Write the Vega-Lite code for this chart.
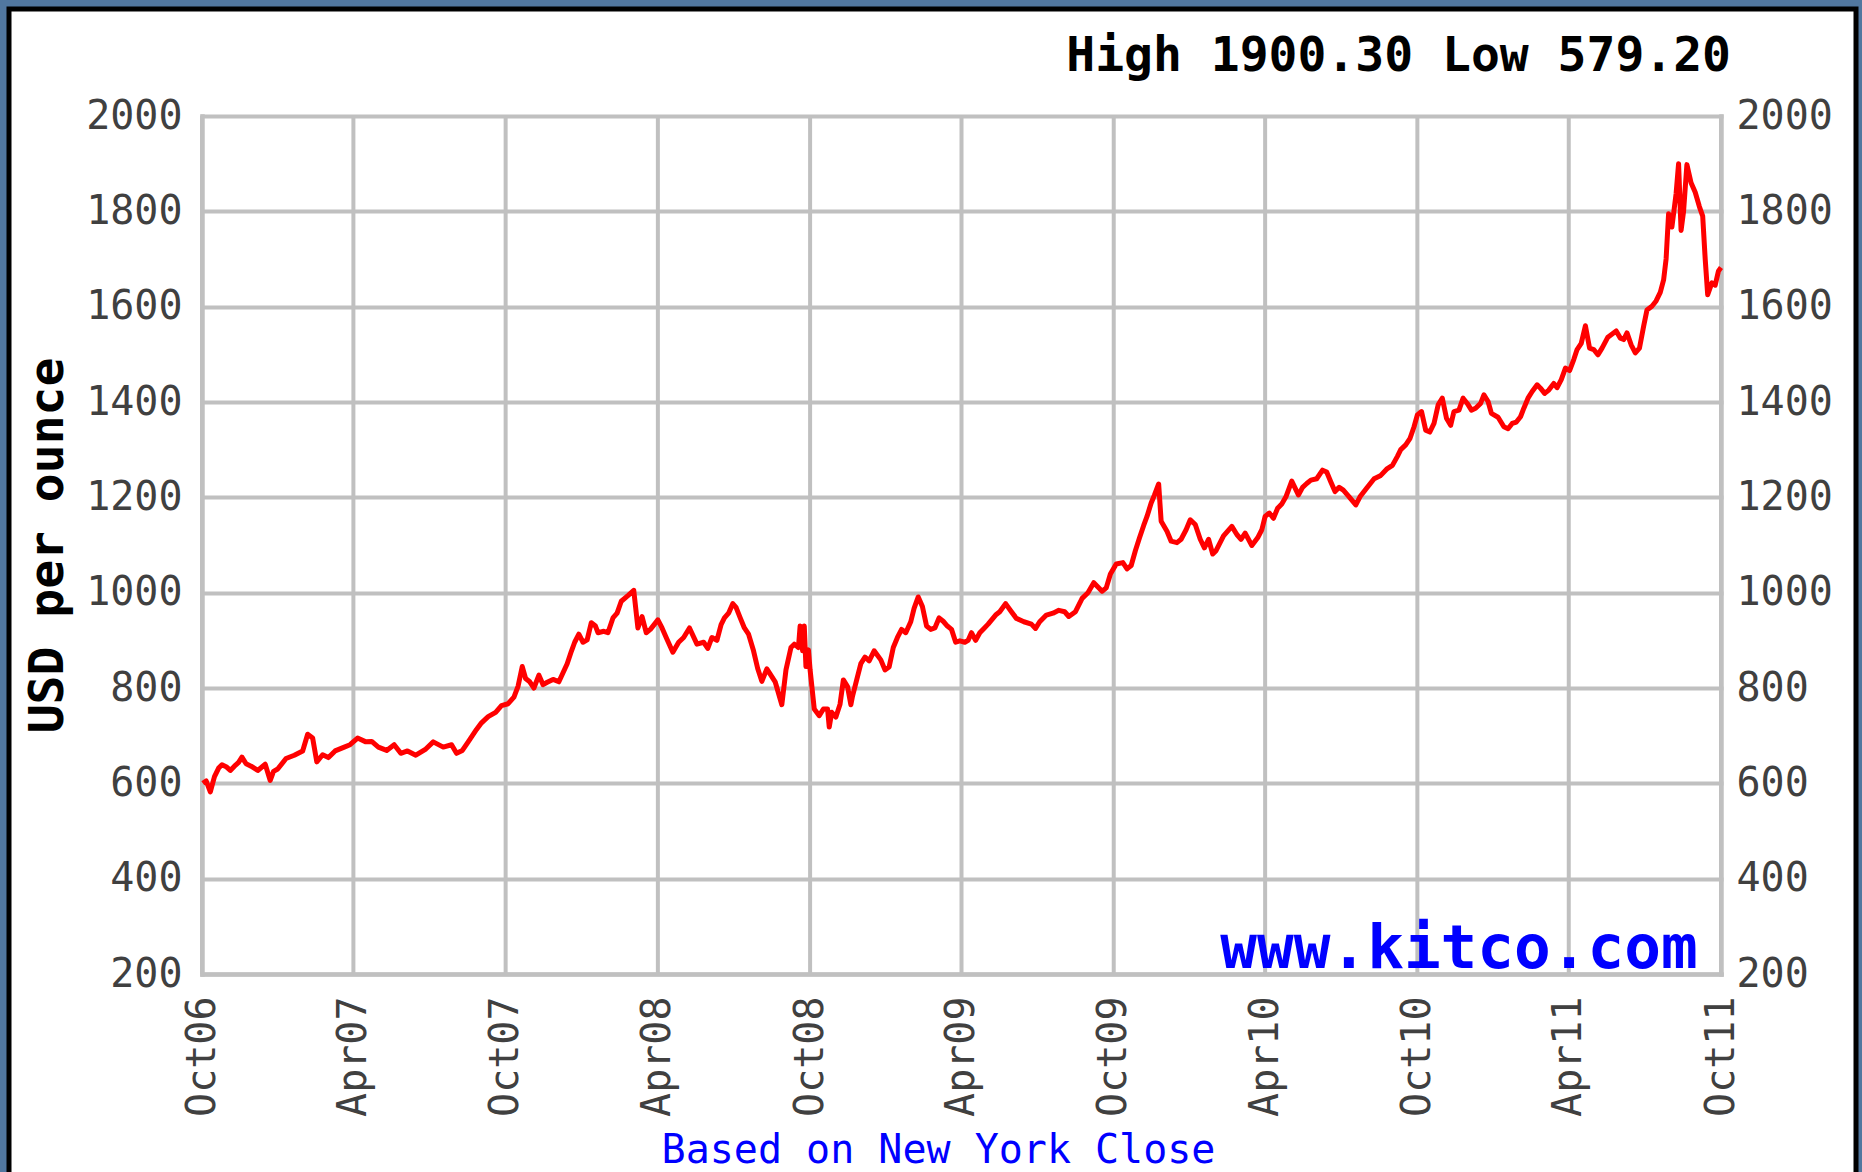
{
  "$schema": "https://vega.github.io/schema/vega-lite/v6.json",
  "autosize": "none",
  "width": 1847,
  "height": 1168,
  "padding": {"left": 9, "top": 9, "right": 6, "bottom": -5},
  "background": "#51779f",
  "config": {
    "view": {"fill": "#ffffff", "stroke": "#000000", "strokeWidth": 5},
    "axis": {
      "domainColor": "#c0c0c0", "domainWidth": 4.5, "domainCap": "square",
      "gridColor": "#c0c0c0", "gridWidth": 4, "gridCap": "square",
      "ticks": false, "tickSize": 0,
      "labelFont": "DejaVu Sans Mono", "labelFontSize": 40, "labelColor": "#404040",
      "titleFont": "DejaVu Sans Mono"
    }
  },
  "data": {"values": [
    {"date": "2006-10-02", "price": 600}, {"date": "2006-10-06", "price": 605}, {"date": "2006-10-11", "price": 582},
    {"date": "2006-10-16", "price": 614}, {"date": "2006-10-21", "price": 632}, {"date": "2006-10-25", "price": 639},
    {"date": "2006-10-30", "price": 635}, {"date": "2006-11-04", "price": 627}, {"date": "2006-11-09", "price": 636},
    {"date": "2006-11-14", "price": 644}, {"date": "2006-11-18", "price": 655}, {"date": "2006-11-23", "price": 641},
    {"date": "2006-11-29", "price": 636}, {"date": "2006-12-07", "price": 627}, {"date": "2006-12-16", "price": 640},
    {"date": "2006-12-22", "price": 606}, {"date": "2006-12-26", "price": 625}, {"date": "2006-12-31", "price": 630},
    {"date": "2007-01-10", "price": 652}, {"date": "2007-01-20", "price": 659}, {"date": "2007-01-30", "price": 668},
    {"date": "2007-02-05", "price": 703}, {"date": "2007-02-11", "price": 695}, {"date": "2007-02-16", "price": 645},
    {"date": "2007-02-23", "price": 660}, {"date": "2007-03-02", "price": 654}, {"date": "2007-03-10", "price": 668},
    {"date": "2007-03-21", "price": 676}, {"date": "2007-03-28", "price": 681}, {"date": "2007-04-06", "price": 695},
    {"date": "2007-04-16", "price": 687}, {"date": "2007-04-23", "price": 688}, {"date": "2007-05-01", "price": 676},
    {"date": "2007-05-11", "price": 669}, {"date": "2007-05-20", "price": 681}, {"date": "2007-05-28", "price": 663},
    {"date": "2007-06-05", "price": 668}, {"date": "2007-06-15", "price": 659}, {"date": "2007-06-27", "price": 672},
    {"date": "2007-07-06", "price": 687}, {"date": "2007-07-18", "price": 676}, {"date": "2007-07-28", "price": 681},
    {"date": "2007-08-03", "price": 663}, {"date": "2007-08-10", "price": 669}, {"date": "2007-08-17", "price": 687},
    {"date": "2007-08-22", "price": 700}, {"date": "2007-08-27", "price": 713}, {"date": "2007-09-02", "price": 727},
    {"date": "2007-09-10", "price": 740}, {"date": "2007-09-19", "price": 749}, {"date": "2007-09-26", "price": 763},
    {"date": "2007-10-04", "price": 767}, {"date": "2007-10-11", "price": 781}, {"date": "2007-10-16", "price": 804},
    {"date": "2007-10-21", "price": 845}, {"date": "2007-10-25", "price": 820}, {"date": "2007-10-30", "price": 813},
    {"date": "2007-11-04", "price": 800}, {"date": "2007-11-10", "price": 827}, {"date": "2007-11-15", "price": 807},
    {"date": "2007-11-20", "price": 812}, {"date": "2007-11-27", "price": 818}, {"date": "2007-12-04", "price": 813},
    {"date": "2007-12-09", "price": 832}, {"date": "2007-12-14", "price": 851}, {"date": "2007-12-19", "price": 877},
    {"date": "2007-12-23", "price": 896}, {"date": "2007-12-28", "price": 913}, {"date": "2008-01-02", "price": 896},
    {"date": "2008-01-07", "price": 901}, {"date": "2008-01-12", "price": 937}, {"date": "2008-01-17", "price": 930},
    {"date": "2008-01-20", "price": 916}, {"date": "2008-01-27", "price": 919}, {"date": "2008-02-01", "price": 916},
    {"date": "2008-02-07", "price": 947}, {"date": "2008-02-12", "price": 957}, {"date": "2008-02-17", "price": 982},
    {"date": "2008-02-25", "price": 994}, {"date": "2008-03-03", "price": 1005}, {"date": "2008-03-08", "price": 926},
    {"date": "2008-03-13", "price": 950}, {"date": "2008-03-18", "price": 916}, {"date": "2008-03-23", "price": 923},
    {"date": "2008-03-28", "price": 934}, {"date": "2008-04-01", "price": 943}, {"date": "2008-04-06", "price": 926},
    {"date": "2008-04-11", "price": 906}, {"date": "2008-04-19", "price": 875}, {"date": "2008-04-26", "price": 896},
    {"date": "2008-05-02", "price": 906}, {"date": "2008-05-09", "price": 926}, {"date": "2008-05-18", "price": 892},
    {"date": "2008-05-26", "price": 896}, {"date": "2008-05-31", "price": 883}, {"date": "2008-06-05", "price": 906},
    {"date": "2008-06-11", "price": 900}, {"date": "2008-06-16", "price": 933}, {"date": "2008-06-20", "price": 947},
    {"date": "2008-06-25", "price": 957}, {"date": "2008-06-30", "price": 977}, {"date": "2008-07-04", "price": 969},
    {"date": "2008-07-09", "price": 947}, {"date": "2008-07-14", "price": 926}, {"date": "2008-07-19", "price": 913},
    {"date": "2008-07-25", "price": 878}, {"date": "2008-07-30", "price": 841}, {"date": "2008-08-04", "price": 814},
    {"date": "2008-08-10", "price": 840}, {"date": "2008-08-20", "price": 813}, {"date": "2008-08-28", "price": 765},
    {"date": "2008-09-02", "price": 838}, {"date": "2008-09-08", "price": 885}, {"date": "2008-09-12", "price": 892},
    {"date": "2008-09-17", "price": 885}, {"date": "2008-09-19", "price": 930}, {"date": "2008-09-22", "price": 878},
    {"date": "2008-09-24", "price": 930}, {"date": "2008-09-26", "price": 845},
    {"date": "2008-09-29", "price": 880}, {"date": "2008-10-01", "price": 838},
    {"date": "2008-10-06", "price": 756}, {"date": "2008-10-12", "price": 742}, {"date": "2008-10-17", "price": 756},
    {"date": "2008-10-22", "price": 756}, {"date": "2008-10-24", "price": 718}, {"date": "2008-10-27", "price": 749},
    {"date": "2008-11-01", "price": 739},
    {"date": "2008-11-06", "price": 766}, {"date": "2008-11-10", "price": 817}, {"date": "2008-11-15", "price": 803},
    {"date": "2008-11-19", "price": 765}, {"date": "2008-11-21", "price": 783}, {"date": "2008-11-25", "price": 810},
    {"date": "2008-12-01", "price": 851},
    {"date": "2008-12-06", "price": 865}, {"date": "2008-12-11", "price": 857}, {"date": "2008-12-17", "price": 878},
    {"date": "2008-12-25", "price": 859}, {"date": "2008-12-30", "price": 838}, {"date": "2009-01-04", "price": 844},
    {"date": "2009-01-09", "price": 885}, {"date": "2009-01-14", "price": 906}, {"date": "2009-01-19", "price": 923},
    {"date": "2009-01-24", "price": 916}, {"date": "2009-01-30", "price": 939}, {"date": "2009-02-03", "price": 967},
    {"date": "2009-02-08", "price": 991}, {"date": "2009-02-13", "price": 971}, {"date": "2009-02-18", "price": 930},
    {"date": "2009-02-23", "price": 923}, {"date": "2009-02-28", "price": 926}, {"date": "2009-03-05", "price": 947},
    {"date": "2009-03-10", "price": 940}, {"date": "2009-03-15", "price": 930}, {"date": "2009-03-20", "price": 923},
    {"date": "2009-03-25", "price": 896}, {"date": "2009-03-30", "price": 899}, {"date": "2009-04-05", "price": 896},
    {"date": "2009-04-09", "price": 900}, {"date": "2009-04-13", "price": 916}, {"date": "2009-04-18", "price": 900},
    {"date": "2009-04-23", "price": 916}, {"date": "2009-04-28", "price": 925}, {"date": "2009-05-03", "price": 934},
    {"date": "2009-05-12", "price": 953}, {"date": "2009-05-17", "price": 960}, {"date": "2009-05-24", "price": 977},
    {"date": "2009-05-31", "price": 960}, {"date": "2009-06-06", "price": 946}, {"date": "2009-06-15", "price": 939},
    {"date": "2009-06-24", "price": 934}, {"date": "2009-06-29", "price": 925}, {"date": "2009-07-04", "price": 939},
    {"date": "2009-07-12", "price": 953}, {"date": "2009-07-20", "price": 957}, {"date": "2009-07-27", "price": 963},
    {"date": "2009-08-03", "price": 960}, {"date": "2009-08-08", "price": 950}, {"date": "2009-08-16", "price": 960},
    {"date": "2009-08-24", "price": 988}, {"date": "2009-08-31", "price": 1000}, {"date": "2009-09-07", "price": 1021},
    {"date": "2009-09-12", "price": 1012}, {"date": "2009-09-17", "price": 1003}, {"date": "2009-09-22", "price": 1010},
    {"date": "2009-09-27", "price": 1039}, {"date": "2009-10-04", "price": 1060}, {"date": "2009-10-12", "price": 1063},
    {"date": "2009-10-17", "price": 1050}, {"date": "2009-10-22", "price": 1057}, {"date": "2009-10-27", "price": 1088},
    {"date": "2009-11-01", "price": 1115}, {"date": "2009-11-06", "price": 1141}, {"date": "2009-11-10", "price": 1160},
    {"date": "2009-11-15", "price": 1188}, {"date": "2009-11-19", "price": 1205}, {"date": "2009-11-24", "price": 1228},
    {"date": "2009-11-27", "price": 1150}, {"date": "2009-12-04", "price": 1129}, {"date": "2009-12-09", "price": 1108},
    {"date": "2009-12-16", "price": 1105}, {"date": "2009-12-21", "price": 1112}, {"date": "2009-12-27", "price": 1132},
    {"date": "2010-01-01", "price": 1153}, {"date": "2010-01-07", "price": 1143}, {"date": "2010-01-13", "price": 1112},
    {"date": "2010-01-18", "price": 1094}, {"date": "2010-01-23", "price": 1112}, {"date": "2010-01-28", "price": 1081},
    {"date": "2010-02-01", "price": 1088}, {"date": "2010-02-10", "price": 1119}, {"date": "2010-02-20", "price": 1139},
    {"date": "2010-02-26", "price": 1122}, {"date": "2010-03-03", "price": 1112}, {"date": "2010-03-08", "price": 1125},
    {"date": "2010-03-16", "price": 1099}, {"date": "2010-03-23", "price": 1115}, {"date": "2010-03-28", "price": 1132},
    {"date": "2010-04-01", "price": 1160}, {"date": "2010-04-06", "price": 1167}, {"date": "2010-04-11", "price": 1156},
    {"date": "2010-04-16", "price": 1177}, {"date": "2010-04-21", "price": 1186}, {"date": "2010-04-26", "price": 1201},
    {"date": "2010-05-03", "price": 1234}, {"date": "2010-05-11", "price": 1205}, {"date": "2010-05-16", "price": 1221},
    {"date": "2010-05-21", "price": 1229}, {"date": "2010-05-26", "price": 1236}, {"date": "2010-06-02", "price": 1239},
    {"date": "2010-06-09", "price": 1257}, {"date": "2010-06-14", "price": 1253}, {"date": "2010-06-19", "price": 1232},
    {"date": "2010-06-24", "price": 1212}, {"date": "2010-06-29", "price": 1221}, {"date": "2010-07-04", "price": 1215},
    {"date": "2010-07-11", "price": 1201}, {"date": "2010-07-19", "price": 1184}, {"date": "2010-07-24", "price": 1201},
    {"date": "2010-07-31", "price": 1217}, {"date": "2010-08-10", "price": 1239}, {"date": "2010-08-18", "price": 1246},
    {"date": "2010-08-25", "price": 1259}, {"date": "2010-09-01", "price": 1267}, {"date": "2010-09-07", "price": 1286},
    {"date": "2010-09-11", "price": 1300}, {"date": "2010-09-17", "price": 1310}, {"date": "2010-09-22", "price": 1323},
    {"date": "2010-09-27", "price": 1348}, {"date": "2010-10-01", "price": 1373}, {"date": "2010-10-06", "price": 1380},
    {"date": "2010-10-11", "price": 1341}, {"date": "2010-10-16", "price": 1337}, {"date": "2010-10-21", "price": 1355},
    {"date": "2010-10-26", "price": 1394}, {"date": "2010-10-31", "price": 1408}, {"date": "2010-11-05", "price": 1366},
    {"date": "2010-11-10", "price": 1351}, {"date": "2010-11-14", "price": 1380}, {"date": "2010-11-20", "price": 1383},
    {"date": "2010-11-25", "price": 1408}, {"date": "2010-11-30", "price": 1397}, {"date": "2010-12-05", "price": 1383},
    {"date": "2010-12-10", "price": 1387}, {"date": "2010-12-16", "price": 1397}, {"date": "2010-12-20", "price": 1415},
    {"date": "2010-12-25", "price": 1401}, {"date": "2010-12-29", "price": 1376}, {"date": "2011-01-06", "price": 1368},
    {"date": "2011-01-13", "price": 1348}, {"date": "2011-01-18", "price": 1344}, {"date": "2011-01-23", "price": 1355},
    {"date": "2011-01-28", "price": 1358}, {"date": "2011-02-02", "price": 1369}, {"date": "2011-02-06", "price": 1387},
    {"date": "2011-02-11", "price": 1408}, {"date": "2011-02-16", "price": 1422}, {"date": "2011-02-22", "price": 1436},
    {"date": "2011-02-26", "price": 1429}, {"date": "2011-03-03", "price": 1418}, {"date": "2011-03-08", "price": 1425},
    {"date": "2011-03-14", "price": 1439}, {"date": "2011-03-18", "price": 1430}, {"date": "2011-03-23", "price": 1447},
    {"date": "2011-03-28", "price": 1471}, {"date": "2011-04-02", "price": 1466}, {"date": "2011-04-07", "price": 1489},
    {"date": "2011-04-11", "price": 1510}, {"date": "2011-04-16", "price": 1523}, {"date": "2011-04-21", "price": 1560},
    {"date": "2011-04-26", "price": 1513}, {"date": "2011-05-01", "price": 1510}, {"date": "2011-05-06", "price": 1499},
    {"date": "2011-05-11", "price": 1513}, {"date": "2011-05-18", "price": 1536}, {"date": "2011-05-28", "price": 1549},
    {"date": "2011-06-02", "price": 1534}, {"date": "2011-06-06", "price": 1531}, {"date": "2011-06-10", "price": 1545},
    {"date": "2011-06-15", "price": 1520}, {"date": "2011-06-20", "price": 1503}, {"date": "2011-06-25", "price": 1513},
    {"date": "2011-06-30", "price": 1559}, {"date": "2011-07-04", "price": 1593}, {"date": "2011-07-10", "price": 1601},
    {"date": "2011-07-15", "price": 1612}, {"date": "2011-07-20", "price": 1630}, {"date": "2011-07-24", "price": 1656},
    {"date": "2011-07-27", "price": 1700}, {"date": "2011-07-30", "price": 1795}, {"date": "2011-08-03", "price": 1767},
    {"date": "2011-08-08", "price": 1837}, {"date": "2011-08-11", "price": 1900}, {"date": "2011-08-14", "price": 1760},
    {"date": "2011-08-17", "price": 1800}, {"date": "2011-08-21", "price": 1898}, {"date": "2011-08-26", "price": 1860},
    {"date": "2011-08-31", "price": 1840}, {"date": "2011-09-05", "price": 1810}, {"date": "2011-09-09", "price": 1790},
    {"date": "2011-09-12", "price": 1700}, {"date": "2011-09-15", "price": 1625}, {"date": "2011-09-20", "price": 1650},
    {"date": "2011-09-24", "price": 1645}, {"date": "2011-09-28", "price": 1675}, {"date": "2011-10-01", "price": 1682}
  ]},
  "layer": [
    {
      "data": {"values": [
        {"tick": "2006-10-01"}, {"tick": "2007-04-01"}, {"tick": "2007-10-01"}, {"tick": "2008-04-01"},
        {"tick": "2008-10-01"}, {"tick": "2009-04-01"}, {"tick": "2009-10-01"}, {"tick": "2010-04-01"},
        {"tick": "2010-10-01"}, {"tick": "2011-04-01"}, {"tick": "2011-10-01"}
      ]},
      "mark": {"type": "rule", "color": "#c0c0c0", "strokeWidth": 4},
      "encoding": {
        "x": {"field": "tick", "type": "temporal", "axis": null},
        "y": {"datum": 200, "type": "quantitative", "axis": null},
        "y2": {"datum": 2000}
      }
    },
    {
      "mark": {"type": "line", "color": "#ff0000", "strokeWidth": 5, "strokeJoin": "round"},
      "encoding": {
        "x": {
          "field": "date", "type": "temporal",
          "scale": {"type": "utc", "nice": false, "range": [193, 1712],
            "domain": [{"year": 2006, "month": 10, "date": 1, "utc": true}, {"year": 2011, "month": 10, "date": 1, "utc": true}]},
          "axis": {
            "orient": "bottom", "offset": -203, "grid": false,
            "values": [
              {"year": 2006, "month": 10, "date": 1, "utc": true}, {"year": 2007, "month": 4, "date": 1, "utc": true},
              {"year": 2007, "month": 10, "date": 1, "utc": true}, {"year": 2008, "month": 4, "date": 1, "utc": true},
              {"year": 2008, "month": 10, "date": 1, "utc": true}, {"year": 2009, "month": 4, "date": 1, "utc": true},
              {"year": 2009, "month": 10, "date": 1, "utc": true}, {"year": 2010, "month": 4, "date": 1, "utc": true},
              {"year": 2010, "month": 10, "date": 1, "utc": true}, {"year": 2011, "month": 4, "date": 1, "utc": true},
              {"year": 2011, "month": 10, "date": 1, "utc": true}
            ],
            "labelExpr": "utcFormat(datum.value, '%b%y')",
            "labelAngle": 270, "labelPadding": 22, "labelFlush": false, "labelOverlap": false,
            "title": "Based on New York Close", "titleColor": "#0000ff", "titleFontSize": 40, "titleFontWeight": "normal",
            "titleX": 929, "titleY": 188, "titleAlign": "center", "titleBaseline": "alphabetic"
          }
        },
        "y": {
          "field": "price", "type": "quantitative",
          "scale": {"domain": [200, 2000], "range": [965, 107], "nice": false, "zero": false},
          "axis": {
            "orient": "left", "offset": -193, "grid": true,
            "values": [200, 400, 600, 800, 1000, 1200, 1400, 1600, 1800, 2000],
            "format": "d", "labelPadding": 20, "labelFlush": false, "labelOverlap": false,
            "title": "USD per ounce", "titleFontSize": 48, "titleFontWeight": "bold", "titleColor": "#000000",
            "titleAngle": -90, "titleX": -140, "titleY": 536, "titleAlign": "center", "titleBaseline": "alphabetic"
          }
        }
      }
    },
    {
      "mark": {"type": "line", "opacity": 0},
      "encoding": {
        "x": {"field": "date", "type": "temporal", "axis": null},
        "y": {
          "field": "price", "type": "quantitative",
          "axis": {
            "orient": "right", "offset": -135, "grid": false,
            "values": [200, 400, 600, 800, 1000, 1200, 1400, 1600, 1800, 2000],
            "format": "d", "labelPadding": 15, "labelFlush": false, "labelOverlap": false, "title": null
          }
        }
      }
    },
    {
      "data": {"values": [{"label": "www.kitco.com"}]},
      "mark": {"type": "text", "font": "DejaVu Sans Mono", "fontSize": 61, "fontWeight": "bold", "color": "#0000ff", "align": "right", "baseline": "alphabetic"},
      "encoding": {
        "x": {"datum": {"year": 2011, "month": 9, "date": 3, "utc": true}, "type": "temporal", "axis": null},
        "y": {"datum": 213, "type": "quantitative", "axis": null},
        "text": {"field": "label"}
      }
    },
    {
      "data": {"values": [{"label": "High 1900.30 Low 579.20"}]},
      "mark": {"type": "text", "font": "DejaVu Sans Mono", "fontSize": 48, "fontWeight": "bold", "color": "#000000", "align": "right", "baseline": "alphabetic"},
      "encoding": {
        "x": {"datum": {"year": 2011, "month": 10, "date": 13, "utc": true}, "type": "temporal", "axis": null},
        "y": {"datum": 2094, "type": "quantitative", "axis": null},
        "text": {"field": "label"}
      }
    }
  ],
  "resolve": {"axis": {"x": "independent", "y": "independent"}}
}
